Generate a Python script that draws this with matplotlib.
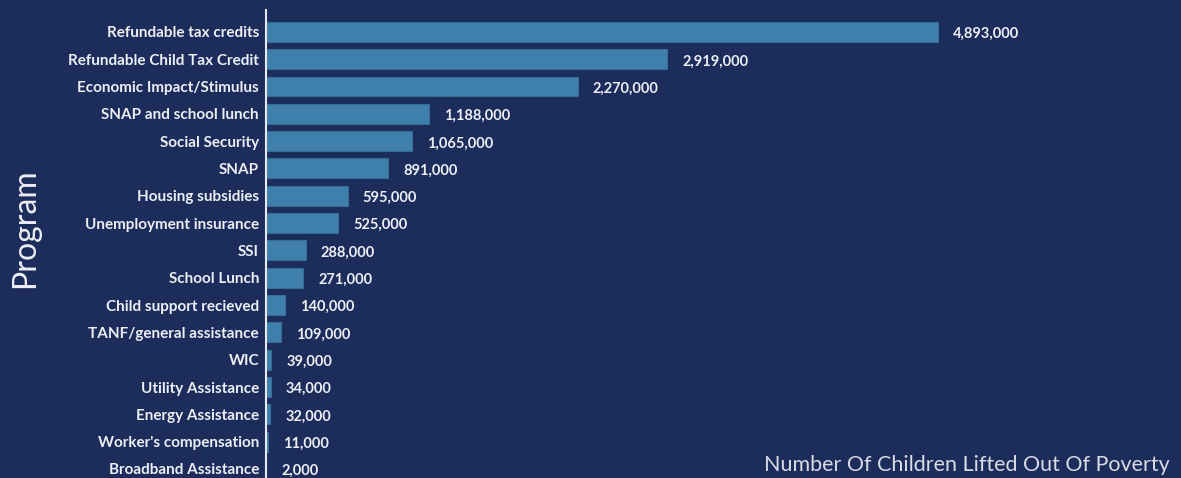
import matplotlib
matplotlib.use("Agg")
import matplotlib.pyplot as plt

programs = ["Refundable tax credits", "Refundable Child Tax Credit", "Economic Impact/Stimulus",
            "SNAP and school lunch", "Social Security", "SNAP", "Housing subsidies",
            "Unemployment insurance", "SSI", "School Lunch", "Child support recieved",
            "TANF/general assistance", "WIC", "Utility Assistance", "Energy Assistance",
            "Worker's compensation", "Broadband Assistance"]
children = [4893000, 2919000, 2270000, 1188000, 1065000, 891000, 595000, 525000,
            288000, 271000, 140000, 109000, 39000, 34000, 32000, 11000, 2000]

bg = "#1c2c5b"
bar_color = "#3f7fab"
text_color = "#eceef3"

plt.rcParams['font.family'] = ['Lato', 'DejaVu Sans']

fig = plt.figure(figsize=(11.81, 4.78), dpi=100, facecolor=bg)
ax = fig.add_axes([266 / 1181, 0.0, (1181 - 266) / 1181, (478 - 10) / 478])
ax.set_facecolor(bg)

y = range(len(programs))
ax.barh(y, children, height=0.73, color=bar_color, edgecolor="#356d96", linewidth=0.8)

# value labels sit a touch below the bar centre in the original
for i, v in enumerate(children):
    ax.text(v + 110000, i + 0.08, "{:,}".format(v), va="center", ha="left",
            color=text_color, fontsize=10.5, fontweight="bold")

ax.set_xlim(0, 6662000)
ax.set_ylim(16.33, -0.8)
ax.set_yticks(list(y))
ax.set_yticklabels(programs, fontsize=11, fontweight="bold", color=text_color)
ax.tick_params(axis="y", length=0, pad=5)
ax.set_xticks([])

for s in ["top", "right", "bottom"]:
    ax.spines[s].set_visible(False)
ax.spines["left"].set_color("#e6e8ee")
ax.spines["left"].set_linewidth(1.5)

fig.text(25 / 1181, 1 - 228 / 478, "Program", rotation=90, va="center", ha="center",
         color=text_color, fontsize=23)
fig.text(1170 / 1181, 1 - 465 / 478, "Number Of Children Lifted Out Of Poverty",
         va="center", ha="right", color="#d8dbe4", fontsize=15.5)

fig.savefig("out.png", dpi=100, facecolor=bg)
